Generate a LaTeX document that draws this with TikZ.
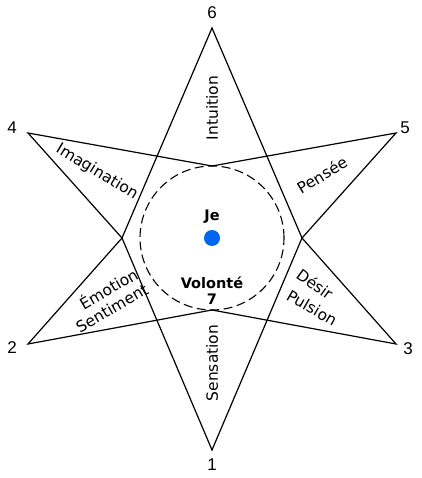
\documentclass[tikz,border=0pt]{standalone}
\usepackage{fontspec}
\setmainfont{DejaVu Sans}
\newfontfamily\numfont{Liberation Sans}
\usetikzlibrary{positioning}
\definecolor{jeblue}{RGB}{0,102,240}

\begin{document}
\begin{tikzpicture}[
    x=1pt, y=1pt,
    edge/.style={
        draw=black,
        line width=1.2pt,
        line join=miter
    },
    circ/.style={
        draw=black,
        line width=1.1pt,
        dash pattern=on 9pt off 4.5pt
    },
    tip/.style={
        font=\numfont\fontsize{17}{19}\selectfont,
        inner sep=0pt
    },
    word/.style={
        font=\fontsize{15.5}{17}\selectfont,
        inner sep=0pt
    },
    centre/.style={
        font=\bfseries\fontsize{14.5}{16}\selectfont,
        inner sep=0pt
    }
]
    \useasboundingbox (0,0) rectangle (421,478);

    % outer tips
    \coordinate (p6) at (212,450);
    \coordinate (p4) at (28,345);
    \coordinate (p5) at (396,345);
    \coordinate (p2) at (28,134);
    \coordinate (p3) at (396,134);
    \coordinate (p1) at (212,28);
    % inner corners
    \coordinate (top) at (212,312);
    \coordinate (bot) at (212,168);
    \coordinate (lft) at (122,240);
    \coordinate (rgt) at (302,240);
    \coordinate (mid) at (212,240);

    % numbers
    \node[tip] (n6) at (212,465) {6};
    \node[tip] (n4) at (12,350) {4};
    \node[tip] (n5) at (405,350) {5};
    \node[tip] (n2) at (12,130) {2};
    \node[tip] (n3) at (408,129) {3};
    \node[tip] (n1) at (212,13) {1};

    % vertical rhombus
    \draw[edge] (p6) -- (lft) -- (p1) -- (rgt) -- cycle;
    % the other four points
    \draw[edge] (p4) -- (top) -- (p5) -- (rgt) -- (p3) -- (bot) -- (p2) -- (lft) -- cycle;

    \draw[circ] (mid) circle (72);
    \fill[jeblue] (mid) circle (8);

    % labels
    \node[word, rotate=90] (intuition) at (212,370) {Intuition};
    \node[word, rotate=90] (sensation) at (212,115) {Sensation};
    \node[word, rotate=-31] (imagination) at (97,306) {Imagination};
    \node[word, rotate=31] (pensee) at (322,303) {Pensée};
    \node[word, rotate=30] (emotion) at (108,190) {Émotion};
    \node[word, rotate=30] (sentiment) at (112,170) {Sentiment};
    \node[word, rotate=-36] (desir) at (315,194) {Désir};
    \node[word, rotate=-30] (pulsion) at (312,170) {Pulsion};

    \node[centre] (je) at (212,261) {Je};
    \node[centre] (volonte) at (212,195) {Volonté};
    \node[centre] (sept) at (212,179) {7};
\end{tikzpicture}
\end{document}
